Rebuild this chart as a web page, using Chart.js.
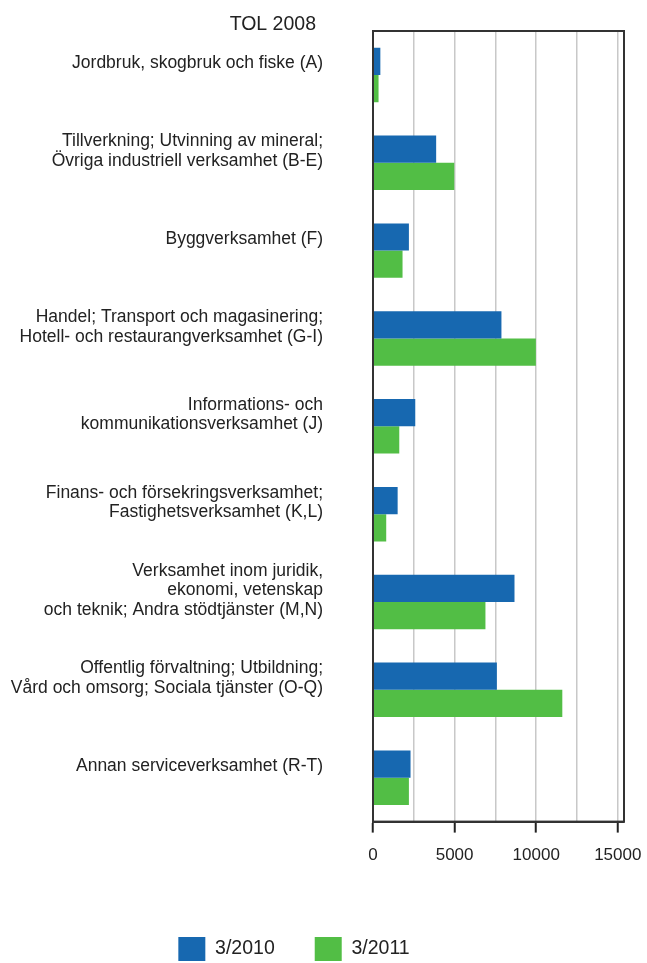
<!DOCTYPE html>
<html>
<head>
<meta charset="utf-8">
<script src="https://cdn.jsdelivr.net/npm/chart.js@4/dist/chart.umd.min.js"></script>
<style>
  html, body { margin: 0; padding: 0; background: #fff; }
  #wrap { width: 647px; height: 963px; }
</style>
</head>
<body>
<div id="wrap"><canvas id="myChart"></canvas></div>
<script>
// Branches (TOL 2008), multi-line labels as in the picture
const categories = [
  ['Jordbruk, skogbruk och fiske (A)'],
  ['Tillverkning; Utvinning av mineral;', 'Övriga industriell verksamhet (B-E)'],
  ['Byggverksamhet (F)'],
  ['Handel; Transport och magasinering;', 'Hotell- och restaurangverksamhet (G-I)'],
  ['Informations- och', 'kommunikationsverksamhet (J)'],
  ['Finans- och försekringsverksamhet;', 'Fastighetsverksamhet (K,L)'],
  ['Verksamhet inom juridik,', 'ekonomi, vetenskap', 'och teknik; Andra stödtjänster (M,N)'],
  ['Offentlig förvaltning; Utbildning;', 'Vård och omsorg; Sociala tjänster (O-Q)'],
  ['Annan serviceverksamhet (R-T)']
];

const seriesNames = ['3/2010', '3/2011'];
const values2010 = [450, 3870, 2200, 7870, 2590, 1510, 8670, 7590, 2300];
const values2011 = [340, 4980, 1810, 9980, 1610, 810, 6890, 11600, 2200];

const axisTitle = 'TOL 2008';
const xMax = 15380;
const xTicks = [0, 2500, 5000, 7500, 10000, 12500, 15000];
const labelStep = 5000;

const fontFamily = '"Liberation Sans", Arial, sans-serif';
const textColor = '#222';

// draws the dark frame round the plot and the "TOL 2008" heading
const framePlugin = {
  id: 'frame',
  afterLayout(chart) {
    // nudge the legend a bit left and down, like the original
    const lg = chart.legend;
    if (!lg) return;
    lg.left -= 18; lg.right -= 18;
    lg.top += 8; lg.bottom += 8;
  },
  afterDraw(chart) {
    const { ctx, chartArea } = chart;
    ctx.save();
    ctx.strokeStyle = '#333';
    ctx.lineWidth = 2;
    ctx.strokeRect(chartArea.left, chartArea.top, chartArea.right - chartArea.left, chartArea.bottom - chartArea.top);
    ctx.fillStyle = textColor;
    ctx.font = '19.5px ' + fontFamily;
    ctx.textAlign = 'right';
    ctx.textBaseline = 'middle';
    ctx.fillText(axisTitle, chartArea.left - 57, 25);
    ctx.restore();
  }
};

const config = {
  type: 'bar',
  data: {
    labels: categories,
    datasets: [
      {
        label: seriesNames[0],
        data: values2010,
        backgroundColor: '#1768b0',
        borderWidth: 0,
        categoryPercentage: 0.62,
        barPercentage: 1.0
      },
      {
        label: seriesNames[1],
        data: values2011,
        backgroundColor: '#52be45',
        borderWidth: 0,
        categoryPercentage: 0.62,
        barPercentage: 1.0
      }
    ]
  },
  options: {
    indexAxis: 'y',
    responsive: true,
    maintainAspectRatio: false,
    animation: { duration: 0 },
    layout: {
      padding: { top: 31, right: 23, left: 0, bottom: 0 }
    },
    scales: {
      x: {
        min: 0,
        max: xMax,
        bounds: 'data',
        border: { display: true, color: '#333', width: 2 },
        grid: {
          color: c => (c.tick && c.tick.value === 0) ? 'rgba(0,0,0,0)' : '#c8c8c8',
          lineWidth: 1.5,
          tickLength: 11,
          tickColor: c => (c.tick && c.tick.value % labelStep === 0) ? '#222' : 'rgba(0,0,0,0)',
          tickWidth: 2
        },
        ticks: {
          maxRotation: 0,
          autoSkip: false,
          padding: 13,
          color: textColor,
          font: { family: fontFamily, size: 17 },
          callback: v => (v % labelStep === 0 ? String(v) : '')
        },
        afterBuildTicks(scale) {
          scale.ticks = xTicks.map(v => ({ value: v }));
        },
        afterFit(scale) {
          scale.height += 10;
          scale.paddingLeft = 0;
          scale.paddingRight = 0;
        }
      },
      y: {
        border: { display: true, color: '#333', width: 2 },
        grid: { display: false, drawTicks: false },
        ticks: {
          padding: 50,
          labelOffset: -11.5,
          color: textColor,
          font: { family: fontFamily, size: 17.5, lineHeight: 1.12 }
        },
        afterFit(scale) {
          scale.width = 373;
          scale.paddingTop = 0;
          scale.paddingBottom = 0;
        }
      }
    },
    plugins: {
      legend: {
        position: 'bottom',
        labels: {
          boxWidth: 27,
          boxHeight: 24,
          padding: 40,
          color: textColor,
          font: { family: fontFamily, size: 19.5 }
        }
      },
      tooltip: { enabled: false },
      title: { display: false }
    }
  },
  plugins: [framePlugin]
};

const myChart = new Chart(document.getElementById('myChart').getContext('2d'), config);
</script>
</body>
</html>
